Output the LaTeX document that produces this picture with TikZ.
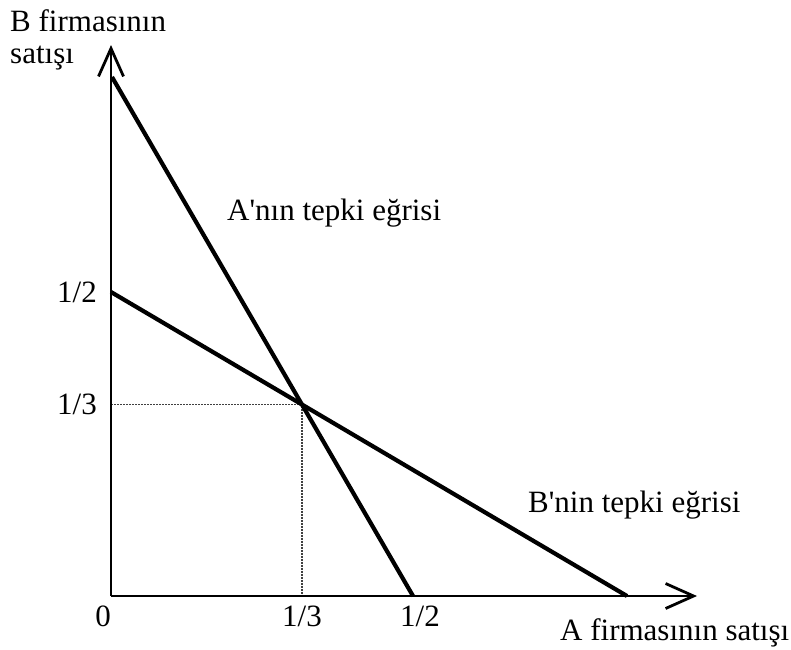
\documentclass[tikz,border=0pt]{standalone}
\usepackage{fontspec}
\setmainfont{Liberation Serif}
\usetikzlibrary{arrows.meta,positioning}

\begin{document}
\begin{tikzpicture}[
    x=1pt, y=-1pt,
    node distance=10pt and 14pt,
    lbl/.style={inner sep=0pt, font=\fontsize{31}{32}\selectfont},
    axis/.style={-{Straight Barb[length=28pt,width=25pt,line width=2.8pt]}, line width=2.8pt},
    react/.style={line width=4.2pt},
    guide/.style={line width=1.6pt, black!75, dash pattern=on 2pt off 1pt}
  ]
    \useasboundingbox (0,0) rectangle (791,649);

    \coordinate (O) at (111,596);
    \coordinate (xend) at (697,596);
    \coordinate (yend) at (111,45);
    \coordinate (a1) at (112,77);
    \coordinate (a2) at (413,596);
    \coordinate (b1) at (111,292);
    \coordinate (b2) at (627,596);
    \coordinate (eq) at (intersection of a1--a2 and b1--b2);
    \coordinate (ey) at (O |- eq);
    \coordinate (ex) at (O -| eq);

    \draw[guide] (ey) -- (eq) -- (ex);
    \draw[axis] (O) -- (xend);
    \draw[axis] (O) -- (yend);
    \draw[react] (a1) -- (a2);
    \draw[react] (b1) -- (b2);

    \node[lbl, below=of O, xshift=-8pt] (l0) {0};
    \node[lbl, below=of ex] (lx13) {1/3};
    \node[lbl, below=of a2, xshift=7pt] (lx12) {1/2};
    \node[lbl, left=of b1] (ly12) {1/2};
    \node[lbl, left=of ey] (ly13) {1/3};

    \node[lbl, align=left, anchor=north west] (ytitle) at (10,9) {B firmasının\\satışı};
    \node[lbl, anchor=base west] (xtitle) at (560,640) {A firmasının satışı};
    \node[lbl, anchor=base west] (alab) at (227,220) {A\textquotesingle nın tepki eğrisi};
    \node[lbl, anchor=base west] (blab) at (528,512) {B\textquotesingle nin tepki eğrisi};
  \end{tikzpicture}
\end{document}
